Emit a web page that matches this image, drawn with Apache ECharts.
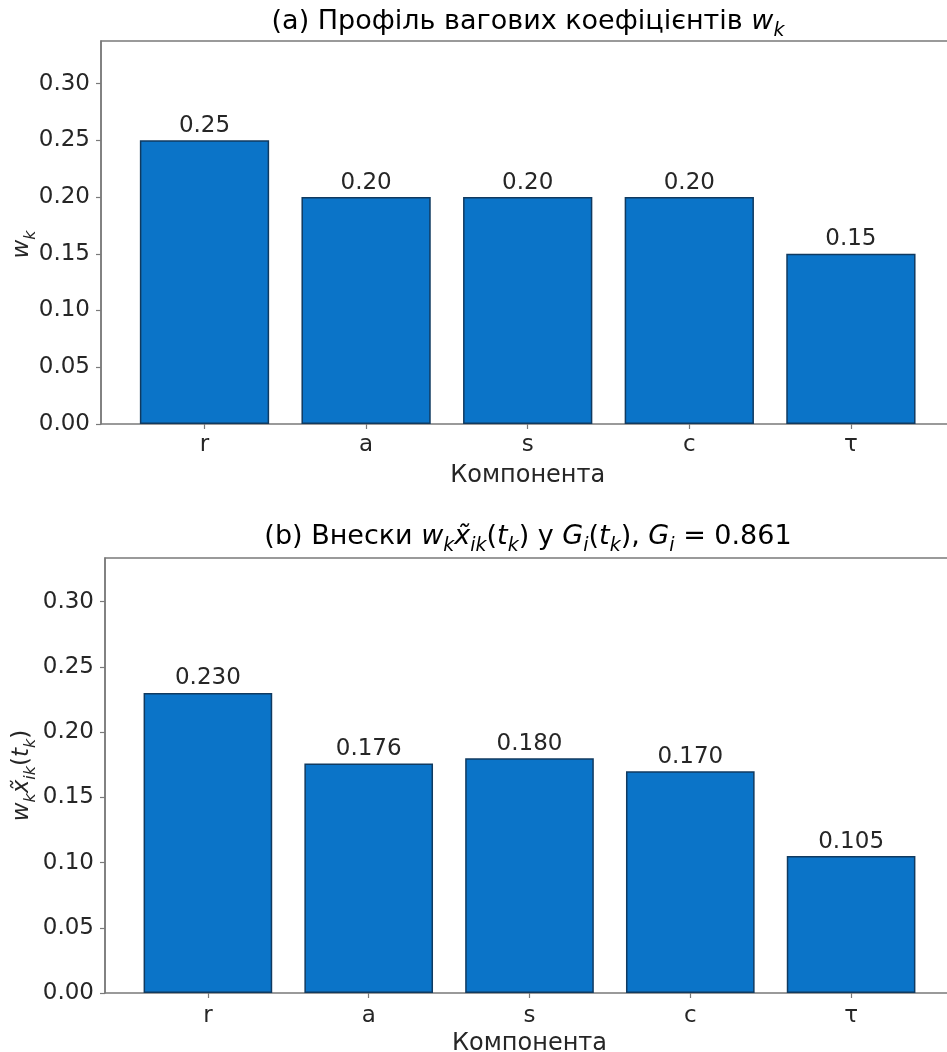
<!DOCTYPE html>
<html><head><meta charset="utf-8">
<script src="https://cdn.jsdelivr.net/npm/echarts@6/dist/echarts.min.js"></script>
<style>html,body{margin:0;padding:0;background:#fff}#c{width:947px;height:1052px}</style>
</head><body><div id="c"></div>
<script>
const categories = ['r', 'a', 's', 'c', 'τ'];
const weights = [0.25, 0.20, 0.20, 0.20, 0.15];
const contributions = [0.230, 0.176, 0.180, 0.170, 0.105];
const yTicks = [0, 0.05, 0.10, 0.15, 0.20, 0.25, 0.30];
const titleA = '(a) Профіль вагових коефіцієнтів {i|w}{s|k}';
const titleB = '(b) Внески {i|w}{s|k}{i|x\u0303}{s|ik}({i|t}{s|k}) у {i|G}{s|i}({i|t}{s|k}), {i|G}{s|i} = 0.861';
const yNameA = '{i|w}{s|k}';
const yNameB = '{i|w}{s|k}{i|x\u0303}{s|ik}({i|t}{s|k})';
const xName = 'Компонента';

const FONT = 'DejaVu Sans';
const TXT = '#262626';
const FRAME = '#7a7a7a';
const BAR = '#0b74c8';
const EDGE = '#103a60';

function rich(fs) {
  return {
    n: {fontSize: fs, fontFamily: FONT, color: TXT, lineHeight: fs + 10, verticalAlign: 'middle'},
    i: {fontSize: fs, fontFamily: FONT, fontStyle: 'italic', color: TXT, lineHeight: fs + 10, verticalAlign: 'middle'},
    s: {fontSize: Math.round(fs * 0.7), fontFamily: FONT, fontStyle: 'italic', color: TXT, lineHeight: fs + 10, verticalAlign: 'bottom'}
  };
}
function wrap(t) { return '{n|' + t.replace(/\{(i|s)\|([^}]*)\}/g, '}{$1|$2}{n|') + '}'; }

// panel geometry
const P = [
  {frameLeft: 101, top: 41, height: 383, max: 0.3375, barLeft: 123.7, barWidth: 808, data: weights, dec: 2,
   yName: yNameA, yPad: [0, 24, 0, 0], nameGap: 62, title: titleA, titleY: 22, lblMargin: 10, xNameGap: 40},
  {frameLeft: 105, top: 558, height: 435, max: 0.3335, barLeft: 127.5, barWidth: 804, data: contributions, dec: 3,
   yName: yNameB, yPad: [0, 0, 0, 0], nameGap: 66, title: titleB, titleY: 537, lblMargin: 12, xNameGap: 39}
];

const grids = [], xAxes = [], yAxes = [], series = [], graphics = [];
P.forEach((p, k) => {
  const gF = grids.length;
  grids.push({left: p.frameLeft, top: p.top, height: p.height, width: 947 - p.frameLeft + 40, show: true,
    borderColor: FRAME, borderWidth: 1.5, backgroundColor: 'transparent', outerBoundsMode: 'none', containLabel: false});
  grids.push({left: p.barLeft, top: p.top, height: p.height, width: p.barWidth, outerBoundsMode: 'none', containLabel: false});
  xAxes.push({gridIndex: gF, type: 'value', min: 0, max: 1, show: false});
  xAxes.push({gridIndex: gF + 1, type: 'category', data: categories,
    axisLine: {show: false},
    axisTick: {show: true, alignWithLabel: true, length: 5, lineStyle: {color: FRAME, width: 1.2}},
    axisLabel: {fontSize: 23, fontFamily: FONT, color: TXT, margin: p.lblMargin},
    name: xName, nameLocation: 'middle', nameGap: p.xNameGap, nameMoveOverlap: false,
    nameTextStyle: {fontSize: 24, fontFamily: FONT, color: TXT}
  });
  yAxes.push({gridIndex: gF, type: 'value', min: 0, max: p.max,
    axisLine: {show: true, lineStyle: {color: FRAME, width: 1.5}},
    axisTick: {show: true, length: 5, customValues: yTicks, lineStyle: {color: FRAME, width: 1.2}},
    axisLabel: {fontSize: 23, fontFamily: FONT, color: TXT, margin: 11, customValues: yTicks, formatter: v => v.toFixed(2)},
    splitLine: {show: false},
    name: wrap(p.yName), nameLocation: 'middle', nameRotate: 90, nameGap: p.nameGap, nameMoveOverlap: false,
    nameTextStyle: {rich: rich(23), padding: p.yPad}
  });
  yAxes.push({gridIndex: gF + 1, type: 'value', min: 0, max: p.max, show: false});
  series.push({type: 'bar', xAxisIndex: gF + 1, yAxisIndex: gF + 1, data: p.data, barWidth: '80%',
    itemStyle: {color: BAR, borderColor: EDGE, borderWidth: 1.5},
    label: {show: true, position: 'top', distance: 3, fontSize: 23, fontFamily: FONT, color: TXT,
      formatter: d => d.value.toFixed(p.dec)}
  });
  graphics.push({type: 'text', x: 528, y: p.titleY,
    style: {text: wrap(p.title), rich: rich(27), align: 'center', verticalAlign: 'middle'}});
});

const chart = echarts.init(document.getElementById('c'), null, {renderer: 'canvas'});
chart.setOption({animation: false, backgroundColor: '#fff', grid: grids, xAxis: xAxes, yAxis: yAxes, series: series, graphic: graphics});
</script></body></html>
